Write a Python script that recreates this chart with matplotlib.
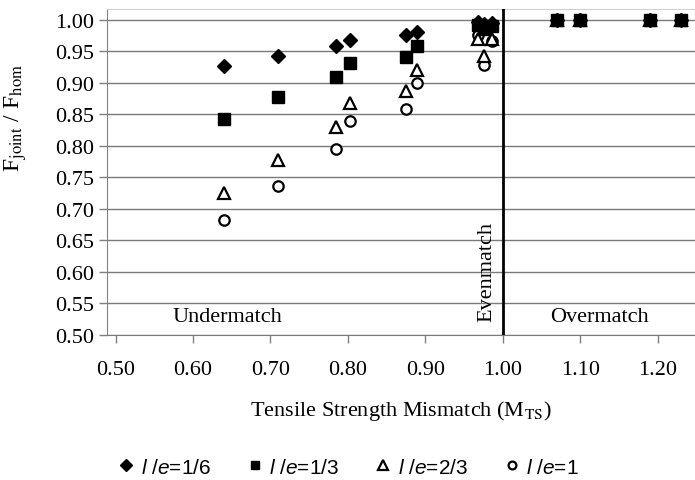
import numpy as np
import matplotlib.pyplot as plt

# tensile strength mismatch values for each joint
m_ts = [0.64, 0.71, 0.785, 0.803, 0.875, 0.889, 0.968, 0.976, 0.986,
        1.07, 1.10, 1.19, 1.23]

# F_joint / F_hom for each l/e ratio
f_16 = [0.927, 0.942, 0.958, 0.968, 0.976, 0.981, 0.996, 0.994, 0.995,
        1.0, 1.0, 1.0, 1.0]
f_13 = [0.842, 0.877, 0.909, 0.932, 0.941, 0.959, 0.992, 0.986, 0.990,
        1.0, 1.0, 1.0, 1.0]
f_23 = [0.725, 0.777, 0.830, 0.868, 0.887, 0.920, 0.970, 0.943, 0.970,
        1.0, 1.0, 1.0, 1.0]
f_1 = [0.683, 0.737, 0.795, 0.839, 0.859, 0.899, 0.975, 0.928, 0.966,
       1.0, 1.0, 1.0, 1.0]

# data, marker, filled, size, label, zorder (filled markers sit on top)
series = [
    (f_16, 'D', True, 7.5, r'$\mathit{l}$ /$\mathit{e}$=1/6', 6),
    (f_13, 's', True, 8, r'$\mathit{l}$ /$\mathit{e}$=1/3', 5),
    (f_23, '^', False, 9, r'$\mathit{l}$ /$\mathit{e}$=2/3', 4),
    (f_1, 'o', False, 7.5, r'$\mathit{l}$ /$\mathit{e}$=1', 3),
]

plt.rcParams['mathtext.fontset'] = 'custom'
plt.rcParams['mathtext.rm'] = 'Liberation Sans'
plt.rcParams['mathtext.it'] = 'Liberation Sans:italic'

serif = 'Liberation Serif'

fig = plt.figure(figsize=(6.95, 4.81), dpi=100)
ax = fig.add_axes([107 / 695, 1 - 336 / 481, 588 / 695, 326 / 481])

for y, mk, filled, ms, lab, z in series:
    ax.plot(m_ts, y, linestyle='none', marker=mk, markersize=ms,
            markerfacecolor='black' if filled else 'white',
            markeredgecolor='black', markeredgewidth=1.6 if not filled else 1,
            label=lab, zorder=z)

ax.set_xlim(0.489, 1.248)
ax.set_ylim(0.50, 1.017)
ax.set_xticks(np.arange(0.5, 1.21, 0.1))
ax.set_yticks(np.arange(0.5, 1.001, 0.05))
ax.set_xticklabels(['%.2f' % v for v in np.arange(0.5, 1.21, 0.1)])
ax.set_yticklabels(['%.2f' % v for v in np.arange(0.5, 1.001, 0.05)])
ax.grid(axis='y', color='#7a7a7a', linewidth=1)
ax.set_axisbelow(True)
ax.tick_params(axis='both', colors='#808080', labelcolor='black',
               labelsize=16, length=6, width=1)
for lbl in ax.get_xticklabels() + ax.get_yticklabels():
    lbl.set_fontfamily(serif)
ax.tick_params(axis='x', pad=12)

ax.spines['right'].set_visible(False)
ax.spines['top'].set_color('#d0d0d0')
ax.spines['left'].set_color('#808080')
ax.spines['bottom'].set_color('#7a7a7a')

# even-match boundary
ax.axvline(1.0, color='black', linewidth=2, zorder=7)

ax.text(0.645, 0.515, 'Undermatch', family=serif, fontsize=16, ha='center', va='bottom')
ax.text(1.125, 0.515, 'Overmatch', family=serif, fontsize=16, ha='center', va='bottom')
ax.text(0.992, 0.522, 'Evenmatch', family=serif, fontsize=16, rotation=90,
        ha='right', va='bottom')

ax.set_xlabel(r'Tensile Strength Mismatch (M$_{\rm TS}$)', family=serif,
              fontsize=16, math_fontfamily='stix', labelpad=14)
ax.set_ylabel(r'F$_{\rm joint}$ / F$_{\rm hom}$', family=serif, fontsize=17,
              math_fontfamily='stix')
ax.yaxis.set_label_coords(-0.133, 0.67)

fig.legend(loc='lower center', bbox_to_anchor=(0.50, -0.032), ncol=4,
           frameon=False, prop={'family': 'Liberation Sans', 'size': 15},
           handletextpad=0.2, columnspacing=1.6, markerscale=0.75,
           handlelength=1.0)

fig.savefig('out.png', dpi=100)
